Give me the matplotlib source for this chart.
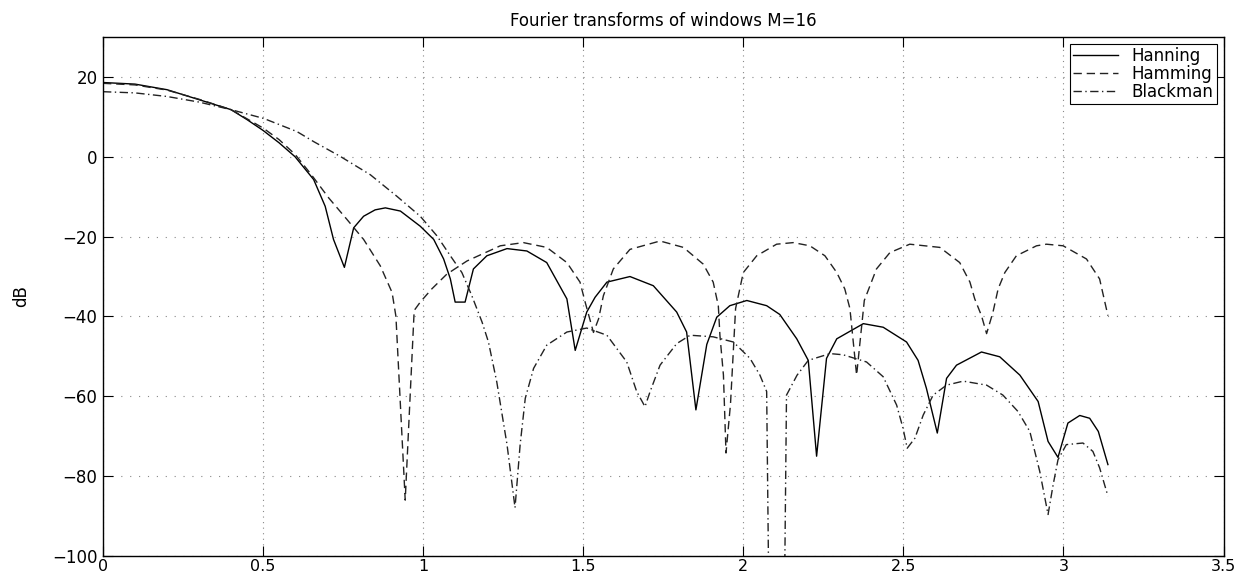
import matplotlib
matplotlib.use("Agg")
from matplotlib import pyplot as plt

# frequency samples (rad) and magnitude (dB)
hanning_w = [0, 0.1, 0.2, 0.3, 0.4, 0.45, 0.5, 0.55, 0.6, 0.658, 0.694, 0.72,
             0.754, 0.783, 0.814, 0.85, 0.882, 0.929, 0.991, 1.033, 1.064, 1.085,
             1.100, 1.131, 1.157, 1.199, 1.262, 1.324, 1.386, 1.449, 1.475, 1.511,
             1.537, 1.574, 1.646, 1.719, 1.792, 1.823, 1.852, 1.886, 1.917, 1.958,
             2.011, 2.073, 2.114, 2.167, 2.203, 2.229, 2.260, 2.292, 2.375, 2.437,
             2.510, 2.546, 2.572, 2.606, 2.635, 2.666, 2.744, 2.801, 2.864, 2.921,
             2.952, 2.983, 3.014, 3.051, 3.082, 3.109, 3.139]
hanning_db = [18.6, 18.2, 16.8, 14.3, 11.8, 9.3, 6.6, 3.5, 0.0, -5.7, -12.4, -20.7,
              -27.7, -17.8, -14.9, -13.3, -12.8, -13.6, -17.4, -20.7, -25.6, -30.6,
              -36.4, -36.4, -28.1, -24.8, -23.0, -23.6, -26.5, -35.6, -48.5, -38.9,
              -35.2, -31.4, -30.0, -32.3, -38.9, -43.9, -63.4, -47.0, -40.2, -37.3,
              -36.0, -37.3, -39.5, -45.6, -51.0, -75.0, -50.5, -45.6, -41.8, -42.7,
              -46.4, -51.0, -58.0, -69.2, -55.5, -52.2, -48.9, -50.1, -54.7, -61.3,
              -71.3, -75.3, -66.7, -64.8, -65.5, -68.8, -77.1]

hamming_w = [0, 0.1, 0.2, 0.3, 0.4, 0.45, 0.5, 0.55, 0.6, 0.65, 0.705, 0.762,
             0.814, 0.866, 0.903, 0.915, 0.944, 0.972, 0.991, 1.027, 1.074, 1.137,
             1.241, 1.313, 1.386, 1.449, 1.490, 1.506, 1.532, 1.548, 1.563, 1.594,
             1.646, 1.740, 1.813, 1.875, 1.906, 1.922, 1.927, 1.938, 1.946, 1.960,
             1.968, 1.976, 2.0, 2.042, 2.104, 2.156, 2.208, 2.255, 2.292, 2.317,
             2.333, 2.354, 2.378, 2.416, 2.458, 2.52, 2.614, 2.676, 2.708, 2.723,
             2.744, 2.760, 2.780, 2.796, 2.817, 2.853, 2.916, 2.947, 2.999, 3.072,
             3.113, 3.139]
hamming_db = [18.4, 18.0, 16.7, 14.4, 11.8, 9.5, 7.2, 4.3, 0.6, -4.4, -10.3, -15.7,
              -20.7, -27.3, -34.0, -40.0, -86.0, -38.5, -36.4, -33.1, -29.4, -26.1,
              -22.3, -21.5, -22.7, -26.5, -31.4, -36.4, -44.0, -40.6, -34.8, -28.1,
              -23.2, -21.1, -22.7, -26.9, -31.4, -37.3, -44.7, -54.7, -74.2, -62.0,
              -50.0, -38.0, -29.0, -24.8, -21.9, -21.5, -22.3, -24.8, -29.0, -33.1,
              -38.0, -54.7, -36.0, -28.1, -24.0, -21.9, -22.7, -26.5, -31.4, -35.6,
              -39.8, -44.3, -38.9, -33.1, -29.0, -24.8, -22.3, -21.9, -22.3, -25.6,
              -30.6, -39.8]

blackman_w = [0, 0.1, 0.2, 0.3, 0.4, 0.502, 0.606, 0.658, 0.741, 0.835, 0.918,
              0.991, 1.043, 1.085, 1.121, 1.152, 1.184, 1.204, 1.230, 1.262, 1.287,
              1.303, 1.319, 1.345, 1.386, 1.449, 1.511, 1.574, 1.636, 1.667, 1.693,
              1.709, 1.740, 1.792, 1.834, 1.906, 1.969, 2.021, 2.052, 2.073, 2.105,
              2.135, 2.168, 2.203, 2.271, 2.312, 2.385, 2.437, 2.479, 2.499, 2.512,
              2.536, 2.562, 2.593, 2.635, 2.687, 2.760, 2.811, 2.858, 2.895, 2.926,
              2.952, 2.968, 2.983, 3.009, 3.061, 3.092, 3.113, 3.139]
blackman_db = [16.3, 16.0, 15.1, 13.7, 11.8, 9.6, 6.3, 3.8, 0.1, -4.5, -9.9,
               -14.9, -19.8, -24.8, -29.0, -34.8, -41.4, -46.4, -56.4, -72.1, -87.9,
               -72.1, -60.5, -53.0, -47.2, -43.9, -42.9, -44.7, -51.4, -58.8, -62.6,
               -58.8, -52.2, -46.8, -44.7, -45.1, -46.4, -50.5, -54.7, -58.8, -300.0,
               -59.7, -54.7, -51.0, -49.3, -49.6, -51.4, -55.1, -62.2, -68.0, -73.0,
               -70.5, -64.7, -59.7, -57.2, -56.2, -57.2, -59.7, -63.8, -68.8, -78.8,
               -89.6, -82.1, -75.9, -72.1, -71.7, -73.8, -77.9, -85.0]

xticks = [0, 0.5, 1, 1.5, 2, 2.5, 3, 3.5]
xticklabels = ["0", "0.5", "1", "1.5", "2", "2.5", "3", "3.5"]
yticks = [-100, -80, -60, -40, -20, 0, 20]

plt.rcParams['font.family'] = ['DejaVu Sans']

fig = plt.figure(figsize=(12.43, 5.78), dpi=100)
ax = fig.add_axes([103 / 1243, 1 - 556 / 578, 1120.5 / 1243, 519 / 578])

ax.plot(hanning_w, hanning_db, color='black', lw=1.0, ls='-', label='Hanning')
ax.plot(hamming_w, hamming_db, color='#222222', lw=1.0, ls=(0, (6, 3.5)), label='Hamming')
ax.plot(blackman_w, blackman_db, color='#222222', lw=1.0, ls=(0, (6, 2.5, 1, 2.5)),
        label='Blackman')

ax.set_xlim(0, 3.5)
ax.set_ylim(-100, 30)
ax.set_xticks(xticks)
ax.set_xticklabels(xticklabels)
ax.set_yticks(yticks)
ax.set_yticklabels([str(v).replace('-', '\u2212') for v in yticks])

ax.grid(axis='x', color='#888888', ls=(0, (1, 4)), lw=0.8)
ax.grid(axis='y', color='#888888', ls=(0, (1, 7)), lw=0.8)
ax.tick_params(direction='in', length=7, width=0.8, top=True, right=True,
               labelsize=12, pad=4)
ax.tick_params(axis='x', labelsize=11.5, pad=2)
for s in ax.spines.values():
    s.set_linewidth(1.0)

ax.set_title('Fourier transforms of windows M=16', fontsize=12, pad=8)
ax.set_ylabel('dB', fontsize=12, labelpad=16)

leg = ax.legend(loc='upper right', fontsize=12, handlelength=2.7,
                fancybox=False, framealpha=1, edgecolor='black',
                borderaxespad=0.4, labelspacing=0.0, borderpad=0.2,
                handletextpad=0.8)
leg.get_frame().set_linewidth(0.8)

fig.savefig('out.png', dpi=100)
